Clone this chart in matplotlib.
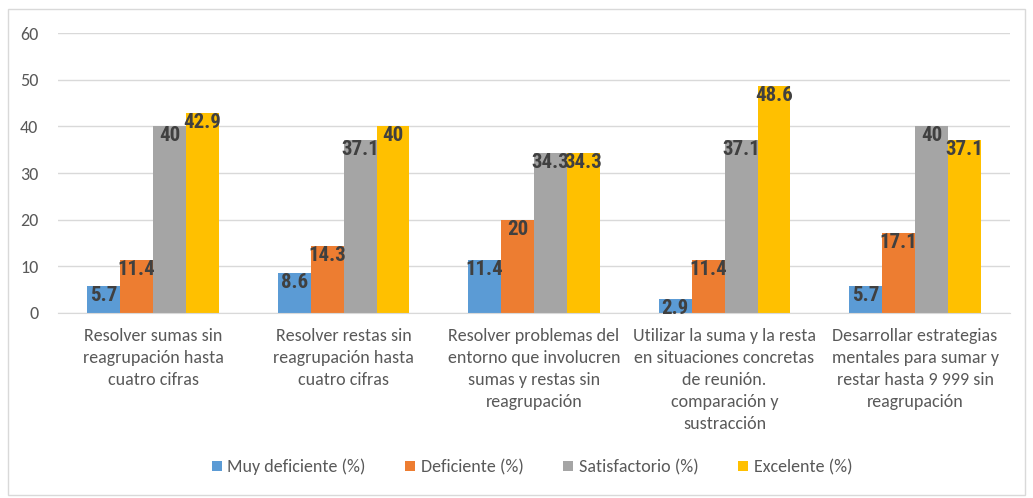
import numpy as np
import matplotlib
matplotlib.use('Agg')
import matplotlib.pyplot as plt
from matplotlib.patches import Rectangle

categories = [
    "Resolver sumas sin\nreagrupación hasta\ncuatro cifras",
    "Resolver restas sin\nreagrupación hasta\ncuatro cifras",
    "Resolver problemas del\nentorno que involucren\nsumas y restas sin\nreagrupación",
    "Utilizar la suma y la resta\nen situaciones concretas\nde reunión.\ncomparación y\nsustracción",
    "Desarrollar estrategias\nmentales para sumar y\nrestar hasta 9 999 sin\nreagrupación",
]
series_names = ["Muy deficiente (%)", "Deficiente (%)", "Satisfactorio (%)", "Excelente (%)"]
muy_deficiente = [5.7, 8.6, 11.4, 2.9, 5.7]
deficiente = [11.4, 14.3, 20, 11.4, 17.1]
satisfactorio = [40, 37.1, 34.3, 37.1, 40]
excelente = [42.9, 40, 34.3, 48.6, 37.1]
colors = ["#5B9BD5", "#ED7D31", "#A5A5A5", "#FFC000"]

txt = "#595959"
fam = ["Carlito", "DejaVu Sans"]
fig = plt.figure(figsize=(10.33, 4.98), dpi=100)
fig.patches.append(Rectangle((8 / 1033, 3 / 498), 1017 / 1033, 486 / 498,
                             transform=fig.transFigure, fill=False,
                             edgecolor="#D9D9D9", lw=1))
ax = fig.add_axes([0.056, 0.3715, 0.922, 0.5622])

x = np.arange(len(categories))
w = 0.173
data = [muy_deficiente, deficiente, satisfactorio, excelente]
for i, vals in enumerate(data):
    pos = x + (i - 1.5) * w
    ax.bar(pos, vals, width=w, color=colors[i], label=series_names[i], zorder=2)
    for p, v in zip(pos, vals):
        ax.text(p, v, f"{v:g}", ha="center", va="top", fontsize=15,
                fontweight="bold", color="#404040",
                family=["Roboto Condensed", "DejaVu Sans"], zorder=3)

ax.set_xlim(-0.5, len(categories) - 0.5)
ax.set_ylim(0, 60)
ax.set_yticks(range(0, 61, 10))
ax.yaxis.grid(True, color="#D9D9D9", lw=1, zorder=0)
for s in ["top", "right", "left"]:
    ax.spines[s].set_visible(False)
ax.spines["bottom"].set_color("#D9D9D9")
ax.tick_params(axis="both", length=0, colors=txt, labelsize=13)
ax.tick_params(axis="y", pad=14)
ax.set_xticks(x)
ax.set_xticklabels(categories, family=fam, fontsize=13,
                   color=txt, linespacing=1.45)
ax.tick_params(axis="x", pad=11)
for lab in ax.get_yticklabels():
    lab.set_family(fam)

leg = fig.legend(loc="center", bbox_to_anchor=(0.515, 0.062), ncol=4, frameon=False,
                 handlelength=0.55, handleheight=0.55, handletextpad=0.3,
                 columnspacing=2.2, prop={"family": fam, "size": 13})
for t in leg.get_texts():
    t.set_color(txt)

fig.savefig("out.png", dpi=100)
